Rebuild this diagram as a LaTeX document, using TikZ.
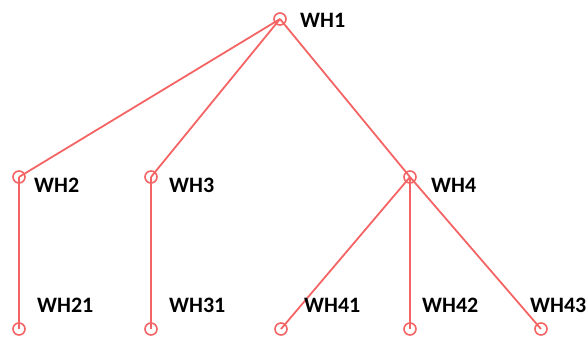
\documentclass[tikz,border=0pt]{standalone}
\usepackage{fontspec}
\setmainfont{Carlito}
\begin{document}
\begin{tikzpicture}[x=1pt,y=-1pt,
  link/.style={draw=linkred,line width=1.8pt},
  vertex/.style={circle,draw=linkred,line width=1.6pt,minimum size=12pt,inner sep=0pt},
  tag/.style={font=\fontsize{22}{24}\selectfont\bfseries,anchor=west,inner sep=0pt}]
\definecolor{linkred}{RGB}{244,100,100}
\useasboundingbox (0,0) rectangle (588,338);
% vertices
\coordinate (c1) at (280,19);
\coordinate (c2) at (19,177);
\coordinate (c3) at (151,177);
\coordinate (c4) at (410,177);
\coordinate (c21) at (19,329);
\coordinate (c31) at (151,329);
\coordinate (c41) at (281,329);
\coordinate (c42) at (410,329);
\coordinate (c43) at (541,329);
% edges
\draw[link] (c1) -- (c2);
\draw[link] (c1) -- (c3);
\draw[link] (c1) -- (c4);
\draw[link] (c2) -- (c21);
\draw[link] (c3) -- (c31);
\draw[link] (c4) -- (c41);
\draw[link] (c4) -- (c42);
\draw[link] (c4) -- (c43);
% circles
\foreach \c in {c1,c2,c3,c4,c21,c31,c41,c42,c43}
  \node[vertex] (n\c) at (\c) {};
% labels
\node[tag] (t1) at (300,20) {WH1};
\node[tag] (t2) at (34,185) {WH2};
\node[tag] (t3) at (169,185) {WH3};
\node[tag] (t4) at (431,185) {WH4};
\node[tag] (t21) at (37,305) {WH21};
\node[tag] (t31) at (169,305) {WH31};
\node[tag] (t41) at (304,305) {WH41};
\node[tag] (t42) at (422,305) {WH42};
\node[tag] (t43) at (530,305) {WH43};
\end{tikzpicture}
\end{document}
